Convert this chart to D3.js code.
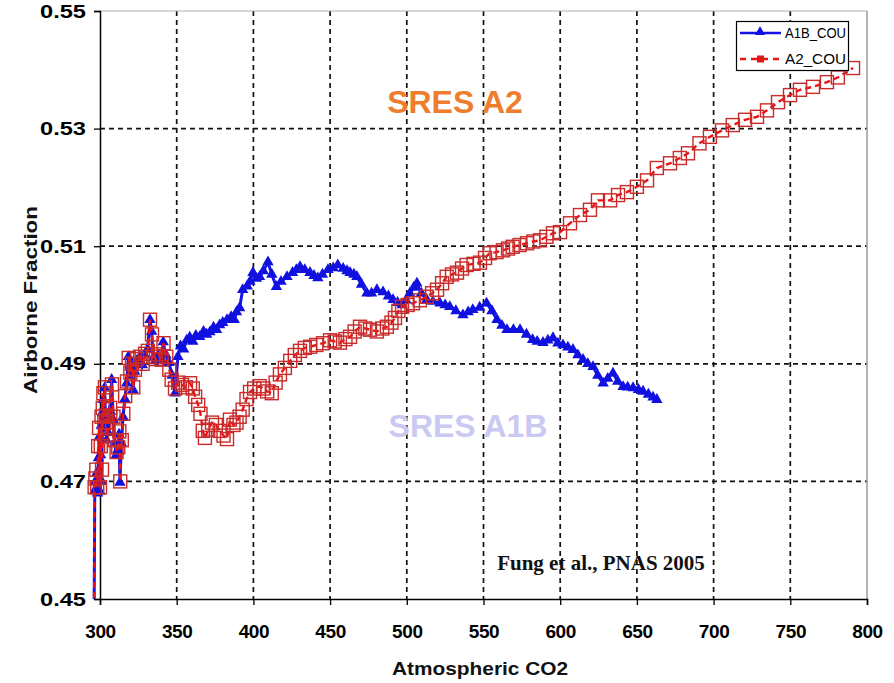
<!DOCTYPE html>
<html>
<head>
<meta charset="utf-8">
<script src="https://cdn.jsdelivr.net/npm/d3@7"></script>
<style>
  html, body { margin: 0; padding: 0; background: #ffffff; }
  svg { display: block; }
</style>
</head>
<body>
<svg id="chart" width="894" height="683"></svg>
<script>
// ---------------- DATA ----------------
const seriesNames = ["A1B_COU", "A2_COU"];
const xTicks = [300, 350, 400, 450, 500, 550, 600, 650, 700, 750, 800];
const yTicks = [0.45, 0.47, 0.49, 0.51, 0.53, 0.55];

const a1bCO2 = [296.0,296.6,297.0,297.8,298.4,299.0,299.4,300.0,300.4,300.8,301.1,301.6,302.0,302.6,303.0,303.6,304.3,305.3,306.4,307.6,308.6,309.6,310.6,311.7,312.4,313.0,314.0,315.0,316.2,317.4,318.5,319.6,320.6,321.5,322.6,324.0,326.0,327.6,329.2,331.0,332.6,333.7,334.6,336.2,338.0,340.0,341.2,343.0,345.0,347.0,348.9,350.8,352.5,354.5,356.5,358.5,360.5,362.5,365.0,367.5,369.5,371.7,374.0,376.0,378.0,380.0,382.8,385.5,387.5,389.0,391.0,393.0,396.0,397.8,399.7,402.0,404.0,406.5,409.5,412.0,415.0,418.0,421.9,425.5,428.0,430.4,433.5,436.9,439.5,442.0,445.0,448.6,452.0,455.0,458.5,461.0,463.0,465.5,467.5,470.5,474.0,477.0,480.5,484.5,488.0,491.0,494.0,496.9,499.5,502.0,504.5,506.6,509.5,513.0,517.0,521.6,525.0,528.0,532.0,536.6,540.0,543.0,547.5,552.0,555.5,558.8,562.0,565.3,569.5,573.8,578.0,582.0,585.0,588.8,592.0,595.3,598.5,601.8,605.0,608.3,611.5,614.9,618.0,621.4,624.5,628.0,631.0,634.4,637.5,641.0,644.0,647.5,651.0,654.0,657.5,660.5,663.0];
const a1bAF = [0.4400,0.4685,0.4700,0.4714,0.4680,0.4740,0.4775,0.4683,0.4745,0.4795,0.4700,0.4817,0.4839,0.4790,0.4859,0.4805,0.4770,0.4783,0.4820,0.4873,0.4805,0.4765,0.4745,0.4754,0.4780,0.4698,0.4765,0.4810,0.4840,0.4867,0.4912,0.4880,0.4898,0.4856,0.4887,0.4905,0.4912,0.4898,0.4915,0.4925,0.4975,0.4955,0.4910,0.4905,0.4915,0.4907,0.4937,0.4915,0.4902,0.4880,0.4850,0.4912,0.4930,0.4925,0.4940,0.4945,0.4938,0.4948,0.4946,0.4955,0.4950,0.4954,0.4962,0.4958,0.4966,0.4970,0.4975,0.4980,0.4975,0.4988,0.4995,0.5026,0.5032,0.5040,0.5055,0.5045,0.5048,0.5058,0.5073,0.5052,0.5031,0.5040,0.5048,0.5055,0.5060,0.5065,0.5060,0.5055,0.5050,0.5046,0.5052,0.5060,0.5063,0.5068,0.5062,0.5058,0.5055,0.5052,0.5048,0.5035,0.5020,0.5020,0.5026,0.5022,0.5015,0.5009,0.5004,0.5000,0.5008,0.5020,0.5030,0.5037,0.5020,0.5009,0.5006,0.5003,0.5000,0.4997,0.4990,0.4983,0.4988,0.4992,0.4996,0.5003,0.4990,0.4975,0.4965,0.4958,0.4958,0.4958,0.4950,0.4941,0.4938,0.4936,0.4940,0.4944,0.4935,0.4932,0.4928,0.4924,0.4915,0.4907,0.4900,0.4895,0.4880,0.4867,0.4875,0.4884,0.4870,0.4861,0.4860,0.4859,0.4856,0.4853,0.4848,0.4843,0.4839];

const a2CO2 = [296.0,296.5,297.0,297.6,298.2,298.8,299.4,300.0,300.5,301.0,301.3,301.8,302.2,302.8,303.2,303.8,304.5,305.5,306.6,307.8,308.8,309.8,310.8,311.9,312.6,313.2,314.2,315.2,316.4,317.6,318.7,319.8,320.8,321.7,322.8,324.2,326.2,327.8,329.4,331.2,332.6,333.9,334.8,336.4,338.2,340.2,341.4,343.2,345.2,346.7,348.9,351.0,353.5,356.0,358.7,360.5,362.0,364.0,365.5,367.0,368.4,370.5,373.0,375.5,378.0,380.5,382.8,384.7,387.0,389.0,391.0,393.0,395.5,397.8,400.5,404.0,406.5,409.0,412.0,414.5,417.3,420.5,424.0,427.0,430.4,433.5,437.0,441.0,445.4,450.0,453.0,456.4,460.0,463.0,466.0,469.5,473.0,476.0,480.5,484.0,487.0,490.0,492.3,494.5,496.9,500.5,504.0,508.5,513.0,516.5,519.7,523.0,526.0,529.5,532.7,536.0,539.0,543.5,547.7,551.0,554.0,558.5,562.7,566.0,569.0,573.5,578.4,582.5,586.8,591.0,595.3,599.9,606.4,612.9,619.4,624.6,632.5,637.7,643.5,650.0,656.6,663.0,671.6,678.0,683.3,690.8,697.6,705.5,712.5,720.5,728.3,734.8,742.0,749.8,756.3,764.8,773.9,781.0,790.9];
const a2AF = [0.4400,0.4690,0.4705,0.4720,0.4690,0.4760,0.4791,0.4690,0.4760,0.4810,0.4720,0.4825,0.4850,0.4800,0.4860,0.4812,0.4778,0.4790,0.4825,0.4865,0.4810,0.4770,0.4750,0.4758,0.4785,0.4700,0.4770,0.4815,0.4845,0.4870,0.4910,0.4885,0.4900,0.4860,0.4890,0.4908,0.4912,0.4900,0.4917,0.4922,0.4975,0.4950,0.4912,0.4908,0.4916,0.4907,0.4935,0.4912,0.4890,0.4873,0.4858,0.4868,0.4864,0.4860,0.4867,0.4858,0.4844,0.4830,0.4815,0.4786,0.4774,0.4788,0.4800,0.4796,0.4786,0.4778,0.4772,0.4805,0.4796,0.4800,0.4810,0.4822,0.4840,0.4852,0.4858,0.4862,0.4858,0.4853,0.4850,0.4868,0.4882,0.4893,0.4905,0.4915,0.4922,0.4927,0.4929,0.4932,0.4935,0.4940,0.4938,0.4936,0.4942,0.4946,0.4955,0.4963,0.4960,0.4958,0.4955,0.4960,0.4963,0.4970,0.4978,0.4990,0.4997,0.5000,0.5003,0.5008,0.5014,0.5020,0.5026,0.5037,0.5048,0.5052,0.5055,0.5062,0.5068,0.5070,0.5072,0.5080,0.5088,0.5090,0.5093,0.5096,0.5099,0.5102,0.5105,0.5108,0.5110,0.5116,0.5122,0.5124,0.5139,0.5153,0.5162,0.5178,0.5178,0.5187,0.5192,0.5201,0.5212,0.5233,0.5241,0.5250,0.5258,0.5275,0.5286,0.5297,0.5306,0.5315,0.5320,0.5331,0.5345,0.5357,0.5366,0.5371,0.5379,0.5387,0.5403];

// ---------------- LAYOUT ----------------
const svg = d3.select("#chart");
const W = 894, H = 683;
const m = { left: 100, top: 11, right: 27, bottom: 84 };
const iw = W - m.left - m.right;
const ih = H - m.top - m.bottom;
const sans = "'Liberation Sans', Arial, sans-serif";

const x = d3.scaleLinear().domain([300, 800]).range([m.left, m.left + iw]);
const y = d3.scaleLinear().domain([0.45, 0.55]).range([m.top + ih, m.top]);

svg.append("rect").attr("width", W).attr("height", H).attr("fill", "#ffffff");

// clip: series may run a little left of the y axis, but not below the x axis
svg.append("defs").append("clipPath").attr("id", "plotclip")
  .append("rect").attr("x", 0).attr("y", 0).attr("width", W).attr("height", y(0.45));

// grid
const grid = svg.append("g");
grid.selectAll("line.vg").data(xTicks.filter(t => t > 300 && t < 800)).enter()
  .append("line")
  .attr("x1", d => x(d)).attr("x2", d => x(d))
  .attr("y1", y(0.55)).attr("y2", y(0.45))
  .attr("stroke", "#111").attr("stroke-width", 1.7)
  .attr("stroke-dasharray", "5,4");
grid.selectAll("line.hg").data(yTicks.filter(t => t > 0.45 && t < 0.55)).enter()
  .append("line")
  .attr("x1", x(300)).attr("x2", x(800))
  .attr("y1", d => y(d)).attr("y2", d => y(d))
  .attr("stroke", "#111").attr("stroke-width", 1.7)
  .attr("stroke-dasharray", "5,4");

// plot border (top, right) in gray
svg.append("line").attr("x1", x(300)).attr("x2", x(800)).attr("y1", y(0.55)).attr("y2", y(0.55))
  .attr("stroke", "#b0b0b0").attr("stroke-width", 1);
svg.append("line").attr("x1", x(800)).attr("x2", x(800)).attr("y1", y(0.55)).attr("y2", y(0.45))
  .attr("stroke", "#9a9a9a").attr("stroke-width", 1.5);

// axes
const xAxis = d3.axisBottom(x).tickValues(xTicks).tickSize(6).tickPadding(20).tickFormat(d3.format("d"));
const gx = svg.append("g").attr("transform", `translate(0,${y(0.45)})`).call(xAxis);
gx.select(".domain").attr("stroke", "#000").attr("stroke-width", 1.5);
gx.selectAll(".tick line").attr("stroke", "#000").attr("stroke-width", 1.3);
gx.selectAll(".tick text")
  .attr("font-family", sans)
  .attr("font-size", 19).attr("font-weight", "bold").attr("fill", "#000")
  .attr("letter-spacing", "-0.4px");

const yAxis = d3.axisLeft(y).tickValues(yTicks).tickSize(6).tickPadding(8).tickFormat(d3.format(".2f"));
const gy = svg.append("g").attr("transform", `translate(${x(300)},0)`).call(yAxis);
gy.select(".domain").attr("stroke", "#000").attr("stroke-width", 1.5);
gy.selectAll(".tick line").attr("stroke", "#000").attr("stroke-width", 1.3);
gy.selectAll(".tick text")
  .attr("font-family", sans)
  .attr("font-size", 19).attr("font-weight", "bold").attr("fill", "#000")
  .attr("textLength", 46).attr("lengthAdjust", "spacingAndGlyphs");

// axis titles
svg.append("text")
  .attr("x", 480).attr("y", 675)
  .attr("text-anchor", "middle")
  .attr("font-family", sans).attr("font-weight", "bold")
  .attr("font-size", 19).attr("fill", "#111")
  .attr("textLength", 176).attr("lengthAdjust", "spacingAndGlyphs")
  .text("Atmospheric CO2");
svg.append("text")
  .attr("transform", "translate(37,300) rotate(-90)")
  .attr("text-anchor", "middle")
  .attr("font-family", sans).attr("font-weight", "bold")
  .attr("font-size", 19).attr("fill", "#111")
  .attr("textLength", 188).attr("lengthAdjust", "spacingAndGlyphs")
  .text("Airborne Fraction");

// annotations
svg.append("text").attr("x", 455).attr("y", 113).attr("text-anchor", "middle")
  .attr("font-family", sans).attr("font-weight", "bold")
  .attr("font-size", 32).attr("fill", "#ee7d2e").text("SRES A2");
svg.append("text").attr("x", 468).attr("y", 437).attr("text-anchor", "middle")
  .attr("font-family", sans).attr("font-weight", "bold")
  .attr("font-size", 32).attr("fill", "#c9c9f1").text("SRES A1B");
svg.append("text").attr("x", 601).attr("y", 570).attr("text-anchor", "middle")
  .attr("font-family", "'Liberation Serif', 'Times New Roman', serif").attr("font-weight", "bold")
  .attr("font-size", 21).attr("fill", "#111").text("Fung et al., PNAS 2005");

// series
const a1b = a1bCO2.map((c, i) => ({ c, v: a1bAF[i] }));
const a2 = a2CO2.map((c, i) => ({ c, v: a2AF[i] }));
const line = d3.line().x(d => x(d.c)).y(d => y(d.v));

const gA1B = svg.append("g").attr("clip-path", "url(#plotclip)");
gA1B.append("path").datum(a1b).attr("d", line)
  .attr("fill", "none").attr("stroke", "#1414e6").attr("stroke-width", 3);
const tri = d3.symbol().type(d3.symbolTriangle).size(56);
gA1B.selectAll("path.m").data(a1b).enter().append("path")
  .attr("d", tri).attr("transform", d => `translate(${x(d.c)},${y(d.v)})`)
  .attr("fill", "#1010e0");

const gA2 = svg.append("g").attr("clip-path", "url(#plotclip)");
gA2.append("path").datum(a2).attr("d", line)
  .attr("fill", "none").attr("stroke", "#ee1111").attr("stroke-width", 2.4)
  .attr("stroke-dasharray", "6,4");
const sq = 13;
gA2.selectAll("rect.m").data(a2).enter().append("rect")
  .attr("x", d => x(d.c) - sq / 2).attr("y", d => y(d.v) - sq / 2)
  .attr("width", sq).attr("height", sq)
  .attr("fill", "none").attr("stroke", "#c92a2a").attr("stroke-width", 1.4);

// legend
const lg = svg.append("g");
lg.append("rect").attr("x", 736.5).attr("y", 21.5).attr("width", 112).attr("height", 49)
  .attr("fill", "#ffffff").attr("stroke", "#000").attr("stroke-width", 1.2);
const legendRows = [
  { name: seriesNames[0], yy: 33, color: "#1414e6", dash: null },
  { name: seriesNames[1], yy: 59, color: "#ee1111", dash: "6,5" }
];
legendRows.forEach((r, i) => {
  lg.append("line").attr("x1", 740).attr("x2", 781).attr("y1", r.yy).attr("y2", r.yy)
    .attr("stroke", r.color).attr("stroke-width", 2.6)
    .attr("stroke-dasharray", r.dash);
  if (i === 0) {
    lg.append("path").attr("d", d3.symbol().type(d3.symbolTriangle).size(44)())
      .attr("transform", `translate(760,${r.yy - 1})`).attr("fill", "#1010e0");
  } else {
    lg.append("rect").attr("x", 757).attr("y", r.yy - 3.5).attr("width", 7).attr("height", 7)
      .attr("fill", "#e01818");
  }
  lg.append("text").attr("x", 785).attr("y", r.yy + 5)
    .attr("font-family", sans)
    .attr("font-size", 14).attr("fill", "#000")
    .attr("textLength", 61).attr("lengthAdjust", "spacingAndGlyphs")
    .text(r.name);
});
</script>
</body>
</html>
